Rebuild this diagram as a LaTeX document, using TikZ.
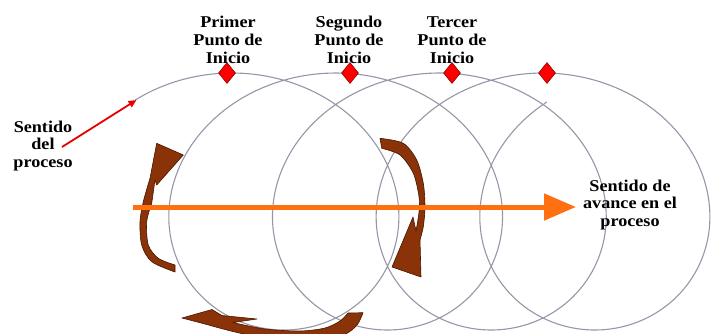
\documentclass[tikz,border=0pt]{standalone}
\usepackage{fontspec}
\setmainfont{Liberation Serif}[FakeStretch=1.1]
\usetikzlibrary{arrows.meta,shapes.geometric}
\definecolor{espira}{RGB}{150,150,168}
\definecolor{naranja}{RGB}{255,112,16}
\definecolor{cafe}{RGB}{138,50,8}
\definecolor{cafeborde}{RGB}{70,22,0}
\definecolor{rojo}{RGB}{232,0,0}

\begin{document}
\begin{tikzpicture}[
    x=1pt, y=-1pt,
    spiral/.style={espira, line width=1.1pt},
    puntomark/.style={diamond, fill=red, draw=red!55!black, line width=0.6pt,
        minimum width=17pt, minimum height=21pt, inner sep=0pt},
    lbl/.style={font=\bfseries\fontsize{16.5}{17.8}\selectfont, align=center, inner sep=0pt},
    redarrow/.style={-{Triangle[length=8pt,width=7pt]}, rojo, line width=1.8pt},
    avance/.style={-{Triangle[length=32pt,width=26pt]}, naranja, line width=5pt},
    flecha/.style={fill=cafe, draw=cafeborde, line width=0.6pt, line join=round}
]
\useasboundingbox (0,0) rectangle (711,333);

% the coil, four turns
\draw[spiral] plot[domain=-0.66:24.45, samples=600, variable=\t]
    ({232+16.5*\t+140*sin(\t r)}, {201.5-128.5*cos(\t r)});
\coordinate (sp0) at (136.5,100);

% starting points
\node[puntomark] (d1) at (227,73) {};
\node[puntomark] (d2) at (350,73) {};
\node[puntomark] (d3) at (452,73) {};
\node[puntomark] (d4) at (547,73) {};

% brown turning arrows round the first turn
\filldraw[flecha] plot[smooth] coordinates {(175,272) (151.7,261.7) (141.7,245) (140,221.7) (143.3,201.7) (150,178.3)}
    -- (156.7,143.3) -- (183.3,155) -- (156.7,185) -- (155,180) -- (151.7,203.3)
    -- plot[smooth] coordinates {(151.7,203.3) (146.7,221.7) (148.3,245) (158.3,258.3) (175,265)} -- cycle;
\filldraw[flecha] plot[smooth] coordinates {(380,138.3) (403.3,143.3) (416.7,160) (423.3,183.3) (425,206.7) (423.3,226.7) (420,240)}
    -- (421,277) -- (392,267) -- (413,217) -- (416,231)
    -- plot[smooth] coordinates {(416,231) (419,212) (419,196.7) (413.3,173.3) (400,155) (381.7,148.3)} -- cycle;
\begin{scope}
\clip (0,0) rectangle (711,333);
\filldraw[flecha] (182,318) -- (212,309.5) -- (222,315.5) -- (257,319) -- (233,322.5)
    -- plot[smooth] coordinates {(233,322.5) (265,329) (300,331) (325,328) (340,321) (348,313)}
    -- (363,312.7)
    -- plot[smooth] coordinates {(363,312.7) (357,325) (343,335) (310,340) (270,339) (235,332) (205,324)} -- cycle;
\end{scope}

% direction of advance
\coordinate (av0) at (133,207);
\coordinate (av1) at (576,207);
\draw[avance] (av0) -- (av1);

% labels
\node[lbl] (primer) at (228,40) {Primer\\Punto de\\Inicio};
\node[lbl] (segundo) at (349,40) {Segundo\\Punto de\\Inicio};
\node[lbl] (tercer) at (452,40) {Tercer\\Punto de\\Inicio};
\node[lbl] (sentido) at (43,146) {Sentido\\del\\proceso};
\node[lbl] (avancelbl) at (630,205) {Sentido de\\avance en el\\proceso};

\coordinate (rstart) at (62,147);
\draw[redarrow] (rstart) -- (sp0);
\end{tikzpicture}
\end{document}
